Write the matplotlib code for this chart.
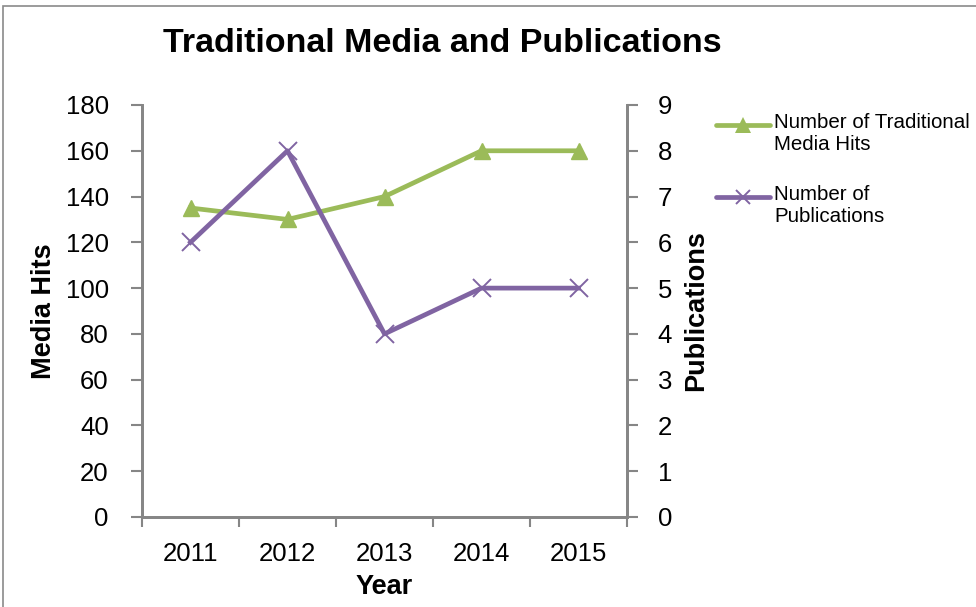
import matplotlib
matplotlib.use("Agg")
import matplotlib.pyplot as plt
from matplotlib.lines import Line2D
from matplotlib.patches import Rectangle

plt.rcParams['font.family'] = ['Liberation Sans', 'DejaVu Sans']

years = ["2011", "2012", "2013", "2014", "2015"]
media_hits = [135, 130, 140, 160, 160]
publications = [6, 8, 4, 5, 5]
left_ticks = [0, 20, 40, 60, 80, 100, 120, 140, 160, 180]
right_ticks = [0, 1, 2, 3, 4, 5, 6, 7, 8, 9]

GREEN = "#9BBB59"
PURPLE = "#8064A2"
AXIS_GRAY = "#868686"

W, H = 976, 607
fig = plt.figure(figsize=(W / 100, H / 100), dpi=100)

# outer chart border
fig.add_artist(Rectangle((3 / W, -0.1), 1.2, 1 - 6 / H + 0.1, transform=fig.transFigure,
                         fill=False, edgecolor="#8a8a8a", linewidth=1.2))

ax = fig.add_axes([142 / W, 1 - 517 / H, (627 - 142) / W, (517 - 105) / H])
ax2 = ax.twinx()

x = list(range(len(years)))
ax.plot(x, media_hits, color=GREEN, linewidth=3.4, marker="^", markersize=12,
        markerfacecolor=GREEN, markeredgecolor=GREEN, zorder=3)
ax2.plot(x, publications, color=PURPLE, linewidth=3.4, marker="x", markersize=13,
         markeredgewidth=1.4, markeredgecolor=PURPLE, zorder=3)

ax.set_xlim(-0.5, len(years) - 0.5)
ax.set_ylim(0, 180)
ax2.set_ylim(0, 9)
ax.set_yticks(left_ticks)
ax2.set_yticks(right_ticks)

# category ticks on boundaries, labels at centres
ax.set_xticks([i - 0.5 for i in range(len(years) + 1)])
ax.set_xticklabels([])
ax.set_xticks(x, minor=True)
ax.set_xticklabels(years, minor=True)
ax.tick_params(axis="x", which="major", direction="out", length=7, width=1.5, color=AXIS_GRAY)
ax.tick_params(axis="x", which="minor", length=0, labelsize=18.5, pad=18)
ax.tick_params(axis="y", direction="out", length=8, width=1.5, color=AXIS_GRAY,
               labelsize=18.5, pad=16)
ax2.tick_params(axis="y", direction="out", length=8, width=1.5, color=AXIS_GRAY,
                labelsize=18.5, pad=14)

for a in (ax, ax2):
    a.spines["top"].set_visible(False)
    for s in ("left", "right", "bottom"):
        a.spines[s].set_color(AXIS_GRAY)
        a.spines[s].set_linewidth(2)
    a.set_facecolor("none")

ax.set_ylabel("Media Hits", fontsize=19.5, fontweight="bold", labelpad=6)
ax2.set_ylabel("Publications", fontsize=19.5, fontweight="bold", labelpad=8)
ax.set_xlabel("Year", fontsize=19.5, fontweight="bold", labelpad=6)

fig.text(442 / W, 1 - 44 / H, "Traditional Media and Publications", fontsize=24.5,
         fontweight="bold", ha="center", va="center")

# legend drawn beside the plot, handle aligned with the first text line
legend_items = [
    (GREEN, "^", 11, 0, "Number of Traditional\nMedia Hits", 125),
    (PURPLE, "x", 10, 1.4, "Number of\nPublications", 197),
]
for color, mk, ms, mew, label, yy in legend_items:
    yf = 1 - yy / H
    fig.add_artist(Line2D([716 / W, 770 / W], [yf, yf], transform=fig.transFigure,
                          color=color, linewidth=3.4, solid_capstyle="round"))
    fig.add_artist(Line2D([743 / W], [yf], transform=fig.transFigure, color=color,
                          marker=mk, markersize=ms, markeredgewidth=mew,
                          markerfacecolor=color, markeredgecolor=color, linestyle="none"))
    fig.text(774 / W, yf + 12 / H, label, fontsize=14.8, ha="left", va="top",
             linespacing=1.2)

fig.savefig("out.png", dpi=100)
